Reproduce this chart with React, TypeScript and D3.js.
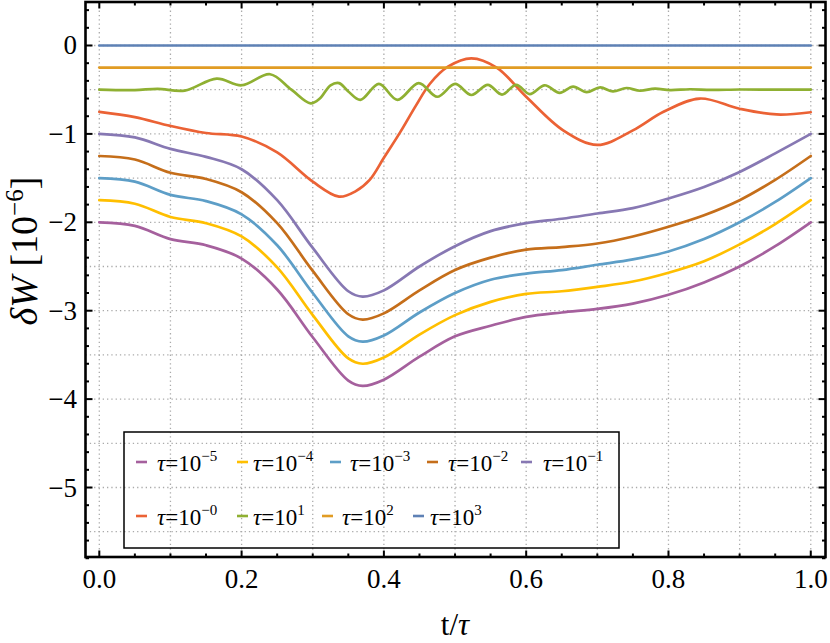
import React from "react";
import * as d3 from "d3";

// ---------- data ----------
const T_SMOOTH = [0, 0.05, 0.1, 0.15, 0.2, 0.25, 0.3, 0.35, 0.37, 0.4, 0.45, 0.5, 0.55, 0.6, 0.65, 0.7, 0.75, 0.8, 0.85, 0.9, 0.95, 1.0];
const TAU_M5 = [-2.0, -2.04, -2.19, -2.26, -2.41, -2.76, -3.3, -3.79, -3.85, -3.78, -3.52, -3.29, -3.17, -3.07, -3.02, -2.98, -2.92, -2.82, -2.68, -2.5, -2.27, -2.0];
const TAU_M4 = [-1.75, -1.79, -1.94, -2.01, -2.16, -2.51, -3.05, -3.54, -3.6, -3.53, -3.27, -3.05, -2.9, -2.81, -2.78, -2.73, -2.67, -2.57, -2.44, -2.25, -2.02, -1.75];
const TAU_M3 = [-1.5, -1.54, -1.69, -1.76, -1.91, -2.26, -2.8, -3.29, -3.35, -3.28, -3.02, -2.8, -2.65, -2.58, -2.54, -2.48, -2.42, -2.33, -2.19, -2.0, -1.77, -1.5];
const TAU_M2 = [-1.25, -1.29, -1.44, -1.51, -1.66, -2.01, -2.55, -3.04, -3.1, -3.03, -2.77, -2.54, -2.4, -2.31, -2.28, -2.24, -2.16, -2.05, -1.92, -1.75, -1.52, -1.25];
const TAU_M1 = [-1.0, -1.04, -1.17, -1.26, -1.4, -1.75, -2.29, -2.78, -2.84, -2.77, -2.5, -2.27, -2.1, -2.01, -1.96, -1.9, -1.84, -1.73, -1.6, -1.43, -1.22, -1.0];

const T_RED = [0, 0.05, 0.1, 0.15, 0.2, 0.25, 0.3, 0.337, 0.36, 0.38, 0.4, 0.423, 0.445, 0.465, 0.49, 0.523, 0.5585, 0.6, 0.652, 0.7, 0.75, 0.793, 0.844, 0.9, 0.952, 1.0];
const TAU_0 = [-0.75, -0.81, -0.91, -0.99, -1.03, -1.21, -1.54, -1.71, -1.65, -1.52, -1.27, -0.98, -0.68, -0.43, -0.24, -0.145, -0.25, -0.58, -0.96, -1.125, -0.96, -0.75, -0.6, -0.715, -0.78, -0.755];

const T_GREEN = [0, 0.05, 0.082, 0.12, 0.165, 0.2, 0.24, 0.27, 0.297, 0.31, 0.325, 0.337, 0.35, 0.367, 0.393, 0.419, 0.449, 0.475, 0.5, 0.523, 0.546, 0.566, 0.586, 0.605, 0.626, 0.647, 0.666, 0.685, 0.704, 0.722, 0.741, 0.76, 0.781, 0.802, 0.83, 0.86, 0.9, 0.95, 1.0];
const TAU_1 = [-0.5, -0.505, -0.49, -0.51, -0.375, -0.45, -0.325, -0.5, -0.655, -0.6, -0.45, -0.425, -0.52, -0.615, -0.435, -0.615, -0.425, -0.58, -0.435, -0.56, -0.445, -0.555, -0.445, -0.55, -0.45, -0.535, -0.465, -0.527, -0.474, -0.52, -0.481, -0.512, -0.487, -0.505, -0.495, -0.503, -0.498, -0.5, -0.5];

const T_FLAT = [0, 1];
const TAU_2 = [-0.25, -0.25];
const TAU_3 = [0, 0];

const X_TICKS = [0, 0.2, 0.4, 0.6, 0.8, 1.0];
const X_TICK_LABELS = ["0.0", "0.2", "0.4", "0.6", "0.8", "1.0"];
const Y_TICKS = [0, -1, -2, -3, -4, -5];
const Y_TICK_LABELS = ["0", "\u22121", "\u22122", "\u22123", "\u22124", "\u22125"];

const LEGEND_EXPONENTS = ["\u22125", "\u22124", "\u22123", "\u22122", "\u22121", "\u22120", "1", "2", "3"];
const COLORS = ["#A5609D", "#FFBF00", "#5D9EC7", "#C56E1A", "#8778B3", "#EB6235", "#8FB032", "#E19C24", "#5E81B5"];

const SERIES = [
  { t: T_SMOOTH, v: TAU_M5 },
  { t: T_SMOOTH, v: TAU_M4 },
  { t: T_SMOOTH, v: TAU_M3 },
  { t: T_SMOOTH, v: TAU_M2 },
  { t: T_SMOOTH, v: TAU_M1 },
  { t: T_RED, v: TAU_0 },
  { t: T_GREEN, v: TAU_1 },
  { t: T_FLAT, v: TAU_2 },
  { t: T_FLAT, v: TAU_3 },
];

// ---------- layout ----------
const W = 830, H = 643;
const L = 85.5, R = 825.5, T = 2, B = 557;

export default function App() {
  const x = d3.scaleLinear().domain([-0.0194, 1.0207]).range([L, R]);
  const y = d3.scaleLinear().domain([-5.786, 0.492]).range([B, T]);

  const line = d3
    .line<[number, number]>()
    .x((d) => x(d[0]))
    .y((d) => y(d[1]))
    .curve(d3.curveCatmullRom.alpha(0.5));

  const xGrid = d3.range(0, 11).map((i) => i / 10);
  const yGrid = d3.range(0, 12).map((i) => -i / 2);
  const xMinor = d3.range(0, 21).map((i) => i / 20);
  const yMinor = d3.range(-29, 3).map((i) => i / 5);

  const legendRows = [
    { y: 462, textX: [157, 253, 350, 448, 543], markX: [136, 237, 330, 427, 521], idx: [0, 1, 2, 3, 4] },
    { y: 516, textX: [157, 253, 342, 430], markX: [136, 237, 322, 413], idx: [5, 6, 7, 8] },
  ];

  const txt: React.CSSProperties = { fontFamily: "Liberation Serif" };

  return (
    <svg width={W} height={H} style={{ position: "absolute", left: 0, top: 0, background: "#fff", fontFamily: "Liberation Serif" }}>
      <rect x={0} y={0} width={W} height={H} fill="#fff" />
      {/* grid */}
      <g stroke="#aaaaaa" strokeWidth={1.3} strokeDasharray="1.3,3">
        {xGrid.map((g) => (
          <line key={"gx" + g} x1={x(g)} x2={x(g)} y1={T} y2={B} />
        ))}
        {yGrid.map((g) => (
          <line key={"gy" + g} x1={L} x2={R} y1={y(g)} y2={y(g)} />
        ))}
      </g>
      {/* curves */}
      <g fill="none" strokeWidth={2.7} strokeLinejoin="round" strokeLinecap="round">
        {SERIES.map((s, i) => (
          <path key={i} d={line(s.t.map((t, j) => [t, s.v[j]]) as [number, number][]) || ""} stroke={COLORS[i]} />
        ))}
      </g>
      {/* ticks */}
      <g stroke="#000" strokeWidth={2}>
        {xMinor.map((t, i) => {
          const len = i % 4 === 0 ? 6.5 : 3.5;
          return (
            <g key={"xt" + i}>
              <line x1={x(t)} x2={x(t)} y1={B} y2={B - len} />
              <line x1={x(t)} x2={x(t)} y1={T} y2={T + len} />
            </g>
          );
        })}
        {yMinor.map((v, i) => {
          const major = Math.abs(v - Math.round(v)) < 1e-9;
          const len = major ? 7 : 3.5;
          return (
            <g key={"yt" + i}>
              <line x1={L} x2={L + len} y1={y(v)} y2={y(v)} />
              <line x1={R} x2={R - len} y1={y(v)} y2={y(v)} />
            </g>
          );
        })}
      </g>
      {/* frame */}
      <rect x={L} y={T} width={R - L} height={B - T} fill="none" stroke="#000" strokeWidth={2.6} />
      {/* tick labels */}
      <g fill="#000">
        {X_TICKS.map((t, i) => (
          <text key={"xl" + i} x={x(t)} y={588} fontSize={27} textAnchor="middle" style={txt}>
            {X_TICK_LABELS[i]}
          </text>
        ))}
        {Y_TICKS.map((v, i) => (
          <text key={"yl" + i} x={77} y={y(v) + 9} fontSize={27} textAnchor="end" style={txt}>
            {Y_TICK_LABELS[i]}
          </text>
        ))}
      </g>
      {/* axis labels */}
      <text x={455} y={635} textAnchor="middle" fontSize={31} style={txt}>
        t/<tspan fontStyle="italic">τ</tspan>
      </text>
      <text transform="translate(37,251) rotate(-90)" textAnchor="middle" fontSize={38} style={txt}>
        <tspan fontStyle="italic">δW</tspan>
        <tspan> [10</tspan>
        <tspan fontSize={25} dy={-14}>{"\u22126"}</tspan>
        <tspan dy={14}>]</tspan>
      </text>
      {/* legend */}
      <rect x={124} y={432} width={495} height={116} fill="none" stroke="#000" strokeWidth={1.5} />
      {legendRows.map((row, r) =>
        row.idx.map((k, j) => (
          <g key={"lg" + r + "_" + j}>
            <line x1={row.markX[j]} x2={row.markX[j] + 11} y1={row.y} y2={row.y} stroke={COLORS[k]} strokeWidth={2.6} />
            <text x={row.textX[j]} y={row.y + 9} fontSize={23} fill="#000" style={txt}>
              <tspan fontStyle="italic">τ</tspan>
              <tspan>=10</tspan>
              <tspan fontSize={15} dy={-10}>{LEGEND_EXPONENTS[k]}</tspan>
            </text>
          </g>
        ))
      )}
    </svg>
  );
}
